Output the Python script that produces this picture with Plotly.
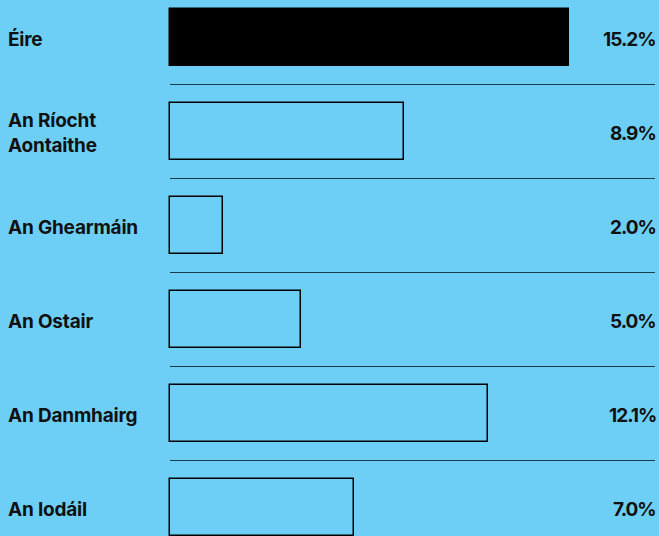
import plotly.graph_objects as go

countries = ["Éire", "An Ríocht<br>Aontaithe", "An Ghearmáin", "An Ostair", "An Danmhairg", "An Iodáil"]
values = [15.2, 8.9, 2.0, 5.0, 12.1, 7.0]
value_labels = ["15.2%", "8.9%", "2.0%", "5.0%", "12.1%", "7.0%"]

W, H = 659, 536
BG = "#6dcff6"
px_per_unit = 399 / 15.2
x0_px = 170
x_range = [-x0_px / px_per_unit, (W - x0_px) / px_per_unit]
row_pitch = 94
first_center = 37.5
y_range = [(H - first_center) / row_pitch, -first_center / row_pitch]

ypos = list(range(len(countries)))
fills = ["#000000"] + ["rgba(0,0,0,0)"] * (len(values) - 1)

fig = go.Figure(go.Bar(
    x=values, y=ypos, orientation="h",
    width=0.61,
    marker=dict(color=fills, line=dict(color="#000000", width=1.5)),
    hoverinfo="skip",
))

font = dict(family="Inter, Roboto, sans-serif", size=19, color="#111111", weight=700)


def tight(s, ls):
    return "<br>".join('<span style="letter-spacing:%s">%s</span>' % (ls, p) for p in s.split("<br>"))


annotations = []
for i, (c, v) in enumerate(zip(countries, value_labels)):
    annotations.append(dict(x=6 / W, xref="paper", y=i + 0.02, yref="y", text=tight(c, "-0.2px"),
                            showarrow=False, xanchor="left", align="left", font=font))
    annotations.append(dict(x=658 / W, xref="paper", y=i + 0.02, yref="y", text=tight(v, "-1px"),
                            showarrow=False, xanchor="right", align="right", font=font))

shapes = []
for i in range(len(countries) - 1):
    shapes.append(dict(type="line", xref="x", yref="y",
                       x0=0, x1=(655 - x0_px) / px_per_unit,
                       y0=i + 0.5, y1=i + 0.5,
                       line=dict(color="#1c3c4a", width=1.2)))

fig.update_layout(
    width=W, height=H,
    margin=dict(l=0, r=0, t=0, b=0),
    paper_bgcolor=BG, plot_bgcolor=BG,
    showlegend=False,
    xaxis=dict(range=x_range, visible=False, fixedrange=True),
    yaxis=dict(range=y_range, visible=False, fixedrange=True),
    annotations=annotations,
    shapes=shapes,
    bargap=0,
)

fig.write_html("out.html", config={"displayModeBar": False},
               post_script="document.body.style.margin='0';document.body.style.background='%s';" % BG)
